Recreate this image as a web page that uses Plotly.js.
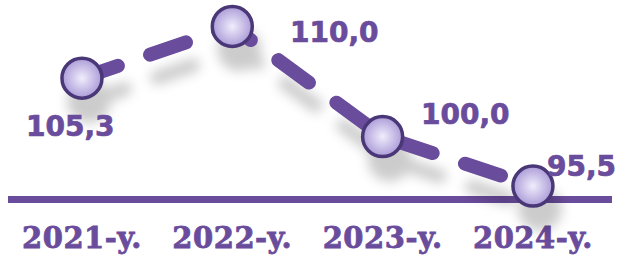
<!DOCTYPE html>
<html>
<head>
<meta charset="utf-8">
<script src="https://cdn.plot.ly/plotly-3.0.1.min.js"></script>
<style>
  html, body { margin: 0; padding: 0; background: #fff; }
  #chart { width: 622px; height: 257px; }
  .scatterlayer .trace .js-line { stroke-linecap: round !important; }
  .scatterlayer .trace { filter: drop-shadow(7px 23px 6px rgba(0,0,0,0.2)); }
  .xtick text { stroke: #6a4c9c; stroke-width: 0.8px; letter-spacing: 0.5px; }
  .annotation-text { stroke: #6a4c9c; stroke-width: 0.7px; }
</style>
</head>
<body>
<div id="chart"></div>
<script>
const categories = ['2021-y.', '2022-y.', '2023-y.', '2024-y.'];
const values = [105.3, 110.0, 100.0, 95.5];
const valueLabels = values.map(v => v.toFixed(1).replace('.', ','));

const purple = '#6a4c9c';
const labelOffsets = [[-11, -48], [102, -6], [83, 22], [49, 20]];

const trace = {
  type: 'scatter',
  mode: 'lines+markers',
  x: categories,
  y: values,
  cliponaxis: false,
  line: { color: purple, width: 14, dash: '38px,34px' },
  marker: {
    size: 40,
    color: '#ab9cd8',
    gradient: { type: 'radial', color: '#f1edfc' },
    line: { color: '#4a3777', width: 3.5 }
  },
  hoverinfo: 'skip'
};

const annotations = categories.map((c, i) => ({
  x: c, y: values[i], xref: 'x', yref: 'y',
  text: valueLabels[i], showarrow: false,
  xanchor: 'center', yanchor: 'middle',
  xshift: labelOffsets[i][0], yshift: labelOffsets[i][1],
  font: { family: 'DejaVu Sans', size: 28, color: purple, weight: 'bold' }
}));

const layout = {
  width: 622, height: 257,
  margin: { l: 8, r: 10, t: 0, b: 61 },
  paper_bgcolor: '#fff', plot_bgcolor: '#fff',
  showlegend: false,
  xaxis: {
    type: 'category',
    range: [-0.492, 3.526],
    showgrid: false, zeroline: false,
    showline: true, linecolor: purple, linewidth: 7,
    layer: 'below traces',
    ticks: '',
    ticklabelstandoff: 10,
    tickfont: { family: 'DejaVu Serif', size: 29, color: purple, weight: 'bold' },
    fixedrange: true
  },
  yaxis: {
    range: [94.6, 112.4],
    visible: false,
    fixedrange: true
  },
  annotations: annotations
};

Plotly.newPlot('chart', [trace], layout, { displayModeBar: false, staticPlot: true });
</script>
</body>
</html>
